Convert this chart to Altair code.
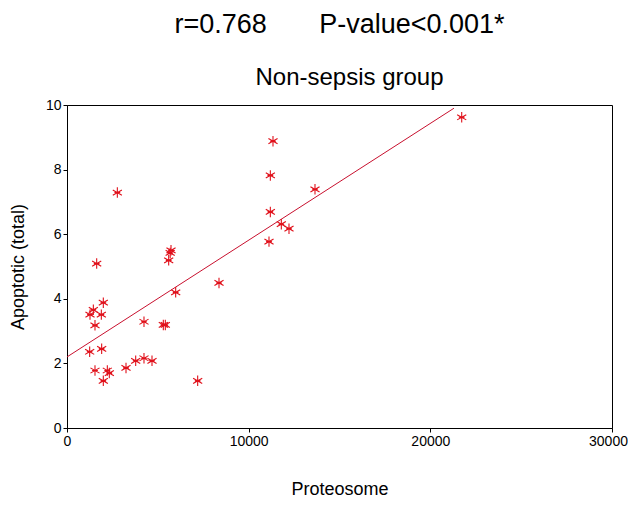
import altair as alt
import pandas as pd

# Scatter points
proteosome = [1634, 5725, 5680, 5597, 1999, 1450, 1266, 1890, 1541, 4238,
              5302, 5412, 5982, 8367, 1248, 1908, 1541, 2220, 2330, 1999,
              3248, 3781, 4238, 4679, 7193, 2771, 11339, 11193, 13651, 11193,
              11798, 12220, 11119, 21727]
apoptotic = [5.09, 5.50, 5.42, 5.19, 3.88, 3.66, 3.51, 3.51, 3.18, 3.29,
             3.19, 3.19, 4.20, 4.49, 2.36, 2.45, 1.78, 1.78, 1.70, 1.46,
             1.86, 2.08, 2.16, 2.08, 1.46, 7.29, 8.88, 7.82, 7.39, 6.69,
             6.31, 6.17, 5.77, 9.62]

# Fit line end points
fit_x = [0, 21300]
fit_y = [2.2, 9.9]

x_ticks = [0, 10000, 20000, 30000]
y_ticks = [0, 2, 4, 6, 8, 10]

pts = pd.DataFrame({"Proteosome": proteosome, "Apoptotic": apoptotic})
fit = pd.DataFrame({"Proteosome": fit_x, "Apoptotic": fit_y})

FONT = "Liberation Sans"

x_enc = alt.X("Proteosome:Q",
              scale=alt.Scale(domain=[0, 30000], nice=False, zero=False),
              axis=alt.Axis(title="Proteosome", values=x_ticks, format="d",
                            labelFlush=False, labelOverlap=False,
                            labelOffset={"condition": {"test": "datum.value == 30000", "value": -4},
                                         "value": 0},
                            titlePadding=32))
y_enc = alt.Y("Apoptotic:Q",
              scale=alt.Scale(domain=[0, 10], nice=False, zero=False),
              axis=alt.Axis(title="Apoptotic (total)", values=y_ticks,
                            labelFlush=False, labelOverlap=False,
                            titlePadding=18))

star = "M0,-1L0,1M-0.87,-0.5L0.87,0.5M-0.87,0.5L0.87,-0.5M-0.55,0L0.55,0"

points = alt.Chart(pts).mark_point(
    shape=star, size=110, filled=False, color="#e0101a", strokeWidth=1.1, opacity=1
).encode(x=x_enc, y=y_enc)

line = alt.Chart(fit).mark_line(color="#c8102e", strokeWidth=1).encode(
    x="Proteosome:Q", y="Apoptotic:Q")

nb = "\u00a0"
chart = alt.layer(line, points).properties(
    width=545, height=323,
    padding={"left": 59, "top": 97, "right": 16, "bottom": 71},
    autosize=alt.AutoSizeParams(type="none"),
    background="white",
    title=alt.TitleParams(
        text="r=0.768" + nb * 7 + "P-value<0.001*",
        subtitle="\u200b" + nb * 3 + "Non-sepsis group",
        font=FONT, fontSize=27, fontWeight="normal", color="black",
        subtitleFont=FONT, subtitleFontSize=24, subtitleColor="black",
        subtitlePadding=27, offset=7, anchor="middle",
    ),
).configure_view(
    stroke="black", strokeWidth=1
).configure_axis(
    grid=False, domainColor="black", tickColor="black", tickSize=4,
    labelFont=FONT, labelFontSize=14, labelColor="black",
    titleFont=FONT, titleFontSize=18, titleFontWeight="normal", titleColor="black",
)

chart.save("out.html", embed_options={"renderer": "svg", "actions": False})
